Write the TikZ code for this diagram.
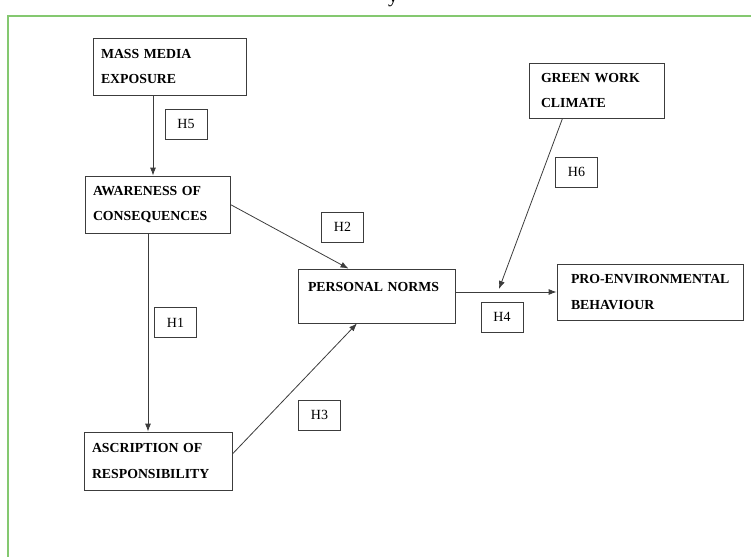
\documentclass[tikz,border=0pt]{standalone}
\usepackage{fontspec}
\setmainfont{Liberation Serif}
\usetikzlibrary{arrows.meta}
\definecolor{framegreen}{RGB}{132,200,112}
\definecolor{linegray}{RGB}{60,60,60}
\begin{document}
\begin{tikzpicture}[x=1pt, y=-1pt,
        V/.style={draw=linegray, line width=.8pt, align=left, inner xsep=8pt, inner ysep=0pt,
          font=\fontsize{13.8}{25.5}\selectfont\bfseries},
        H/.style={draw=linegray, line width=.8pt, minimum width=42pt, minimum height=30pt,
          inner sep=0pt, font=\fontsize{14}{16}\selectfont},
        arr/.style={draw=linegray, line width=.8pt, -{Latex[length=8pt,width=6pt]}}
      ]
      \useasboundingbox (0,0) rectangle (751,556);
      \draw [framegreen, line width=1.6pt] (8,16) rectangle (770,580);
      \node [anchor=base, font=\fontsize{20}{20}\selectfont] (cap) at (393,3) {y};
      % variables
      \node [V, text width=137pt, minimum height=57pt] (mmx) at (169.5,66.5) {MASS MEDIA\\EXPOSURE};
      \node [V, text width=129pt, minimum height=57pt] (aoc) at (157.5,204.5) {AWARENESS OF\\CONSEQUENCES};
      \node [V, text width=132pt, minimum height=58pt] (asc) at (158,461) {ASCRIPTION OF\\RESPONSIBILITY};
      \node [V, inner xsep=10pt, text width=137pt, minimum height=54pt, text depth=18pt] (pn) at (376.5,296) {PERSONAL NORMS};
      \node [V, inner xsep=12pt, text width=111pt, minimum height=55pt] (gwc) at (596.5,90.5) {GREEN WORK\\CLIMATE};
      \node [V, inner xsep=14pt, text width=158pt, minimum height=56pt] (peb) at (650,292) {\mbox{PRO-ENVIRONMENTAL}\\BEHAVIOUR};
      % hypotheses
      \node [H] (h5) at (186,124) {H5};
      \node [H] (h2) at (342.5,227) {H2};
      \node [H] (h1) at (175.5,322.5) {H1};
      \node [H] (h3) at (319.5,415) {H3};
      \node [H] (h6) at (576.5,172) {H6};
      \node [H] (h4) at (502,317) {H4};
      \coordinate (join) at (499,289);
      % paths
      \draw [arr] ([xshift=-16.5pt]mmx.south) -- ([xshift=-16.5pt]mmx.south |- aoc.north);
      \draw [arr] ([xshift=-9.5pt]aoc.south) -- ([xshift=-9.5pt]aoc.south |- asc.north);
      \draw [arr] (aoc.east) -- ([xshift=-28pt]pn.north);
      \draw [arr] ([yshift=7pt]asc.east) -- ([xshift=-19.5pt]pn.south);
      \draw [arr] ([yshift=4pt]pn.east) -- (peb.west);
      \draw [arr] ([xshift=-34pt]gwc.south) -- (join);
    \end{tikzpicture}
\end{document}
